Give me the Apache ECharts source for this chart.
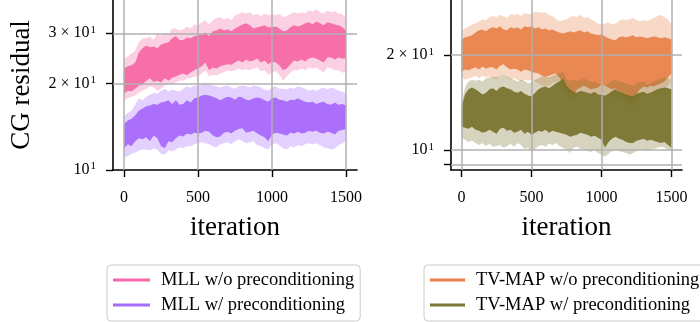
<!DOCTYPE html>
<html>
<head>
<meta charset="utf-8">
<script src="https://cdn.jsdelivr.net/npm/echarts@6/dist/echarts.min.js"></script>
<style>
  html, body { margin: 0; padding: 0; background: #fff; }
  #chart { width: 700px; height: 322px; }
</style>
</head>
<body>
<div id="chart"></div>
<script>
// iterations sampled along the x axis
const ITER = [0,25,50,75,100,125,150,175,200,225,250,275,300,325,350,375,400,425,450,475,
  500,525,550,575,600,625,650,675,700,725,750,775,800,825,850,875,900,925,950,975,
  1000,1025,1050,1075,1100,1125,1150,1175,1200,1225,1250,1275,1300,1325,1350,1375,1400,1425,1450,1475,1500];

// MLL w/o preconditioning: outer (light) and inner (dark) envelopes
const mllNoLo = [17.5,17.8,18.0,18.2,18.6,18.9,19.2,19.6,19.4,18.9, 19.2,19.7,19.9,20.0,20.2,20.5,20.5,20.9,20.9,21.2,
  21.2,21.7,22.3,21.2,21.5,21.4,21.7,21.9,22.3,22.1, 22.3,22.6,22.3,22.5,22.3,22.6,22.8,22.1,22.3,21.5,
  21.9,22.1,21.5,20.5,21.2,21.9,22.3,22.3,22.6,22.3, 22.8,22.6,22.8,22.3,21.9,22.8,22.6,22.3,22.3,21.9,21.9];
const mllNoInLo = [18.5,18.9,18.8,19.2,19.7,19.9,20.5,20.9,20.3,20.5, 20.2,20.9,20.5,21.0,21.2,21.5,21.7,21.4,21.9,22.3,
  22.6,23.0,23.7,22.3,22.8,22.6,23.0,23.2,23.4,23.3, 23.7,24.1,23.7,24.3,23.9,24.1,24.5,23.7,24.1,23.4,
  23.9,23.7,23.2,22.3,22.6,23.4,24.1,23.9,24.3,23.9, 24.5,24.7,24.5,24.1,23.7,24.7,24.7,24.3,24.7,24.5,24.5];
const mllNoInHi = [22.6,23.0,23.2,23.7,25.7,26.6,27.2,26.8,27.0,26.6, 27.4,27.7,27.9,28.8,29.3,28.4,28.4,29.0,28.8,29.3,
  29.5,29.7,30.2,29.3,30.5,30.7,31.2,30.7,31.0,30.5, 31.2,31.7,32.2,32.5,32.0,31.2,31.5,31.7,32.0,31.5,
  31.5,31.7,31.2,30.5,30.7,31.5,32.0,31.7,32.0,32.5, 32.8,32.2,33.0,32.5,32.0,32.8,32.5,32.2,32.0,31.5,30.7];
const mllNoHi = [24.5,24.9,25.5,26.1,27.9,28.8,28.8,29.3,28.4,30.0, 29.5,30.2,29.7,31.2,31.2,30.7,31.0,31.7,31.2,32.2,
  32.0,32.8,33.3,32.2,33.3,33.9,34.1,33.6,33.9,33.3, 34.7,35.0,35.5,35.2,35.5,34.7,35.0,34.4,35.2,34.7,
  35.0,34.7,35.0,34.1,34.4,35.0,35.5,35.2,35.5,35.2, 36.1,35.8,36.4,35.5,35.2,36.1,35.5,35.8,35.2,35.0,33.9];

// MLL w/ preconditioning
const mllPcLo = [11.0,11.2,11.4,11.5,11.7,11.8,11.8,11.7,11.9,11.8, 11.4,11.3,11.7,11.6,11.8,12.0,11.9,12.1,12.1,12.3,
  12.4,12.5,12.4,12.3,12.1,12.0,12.3,12.4,12.5,12.3, 12.6,12.8,12.6,12.4,12.5,12.6,12.2,12.1,11.9,11.8,
  12.3,12.4,12.2,11.9,11.8,12.1,12.0,12.2,12.1,12.3, 12.4,12.3,12.4,12.2,12.0,11.9,11.8,11.9,12.2,12.4,12.6];
const mllPcInLo = [11.9,12.3,12.1,12.6,12.9,12.8,13.0,12.6,13.2,12.9, 12.1,11.9,12.6,12.5,12.9,13.2,13.1,13.4,13.3,13.5,
  13.4,13.5,13.7,13.6,13.2,13.0,13.1,13.5,13.6,13.4, 13.7,13.9,14.0,13.5,13.6,13.7,13.4,13.2,13.0,12.6,
  13.3,13.5,13.4,13.3,13.2,13.5,13.4,13.6,13.4,13.5, 13.7,13.6,13.7,13.5,13.4,13.6,13.5,13.3,13.7,13.8,13.9];
const mllPcInHi = [14.5,14.9,15.1,15.5,16.1,16.4,16.7,16.8,17.0,16.9, 17.2,17.3,17.5,17.0,17.5,16.9,17.0,17.5,17.2,17.8,
  17.9,18.2,18.3,18.2,18.0,17.8,17.5,17.8,18.0,17.9, 17.6,18.0,17.9,17.6,17.5,17.8,17.9,17.8,17.5,17.3,
  17.8,17.9,17.6,17.5,17.3,17.6,17.5,17.8,17.5,17.3, 17.2,17.3,17.0,17.2,17.3,17.0,16.9,17.2,16.9,17.0,16.8];
const mllPcHi = [15.4,15.8,16.1,16.9,17.8,17.5,18.0,18.3,18.6,18.5, 18.9,19.2,18.8,19.1,18.9,18.8,19.2,19.6,19.4,19.7,
  19.6,20.0,20.2,19.9,19.7,19.6,19.4,19.6,19.7,19.4, 19.2,19.6,19.7,19.6,19.4,19.7,19.6,19.4,19.1,18.9,
  19.4,19.6,19.2,19.2,19.1,19.4,19.2,19.6,19.4,19.2, 18.9,19.1,18.9,19.2,19.4,19.1,19.4,19.2,18.9,18.8,18.5];

// TV-MAP w/o preconditioning
const tvNoLo = [17.0,16.7,16.9,17.0,17.2,16.9,17.2,17.0,17.1,17.0, 16.7,17.2,17.4,17.0,16.7,16.9,16.7,16.5,16.7,16.6,
  16.7,16.5,16.3,16.0,15.9,16.0,16.3,16.5,16.0,15.3, 14.8,14.5,14.2,14.8,15.0,15.1,15.0,14.8,14.9,15.0,
  15.2,15.0,14.9,14.7,14.7,14.5,14.2,14.0,13.9,13.8, 14.2,14.7,15.0,14.9,15.1,15.0,15.2,15.3,15.6,16.0,16.7];
const tvNoInLo = [17.7,18.0,17.9,18.1,18.3,18.0,18.4,18.1,18.3,18.3, 18.0,18.5,18.7,18.3,18.0,18.1,18.0,17.7,18.0,17.9,
  17.7,17.6,17.5,17.2,17.1,17.2,17.4,17.5,17.0,16.3, 15.6,15.2,15.0,15.6,15.8,16.0,15.8,15.6,15.7,15.8,
  16.1,16.0,15.8,15.6,15.7,15.3,15.0,14.7,14.5,14.5, 15.1,15.6,15.9,15.8,16.0,15.9,16.1,16.3,16.5,17.0,17.5];
const tvNoInHi = [22.4,22.8,22.9,23.1,23.6,24.0,24.1,23.8,24.3,24.5, 24.3,24.7,24.1,24.0,24.5,24.3,24.5,24.1,24.7,24.5,
  24.7,24.3,24.5,24.1,24.3,24.0,24.1,23.8,23.6,23.4, 23.6,23.8,23.6,23.8,24.0,23.6,23.8,23.4,23.3,23.1,
  23.3,22.9,22.6,22.4,22.3,22.8,22.9,22.8,22.9,23.1, 22.8,22.9,22.8,22.6,22.8,22.9,22.8,22.6,22.8,22.6,22.4];
const tvNoHi = [23.8,24.3,24.7,25.0,25.2,25.6,26.0,25.8,26.4,26.6, 26.4,26.8,26.6,26.2,27.0,26.8,27.0,26.6,27.2,27.0,
  27.0,27.4,27.4,27.2,27.4,26.8,26.6,26.0,25.6,25.8, 26.0,26.4,26.6,26.4,26.8,26.2,26.4,26.0,25.6,25.2,
  25.0,25.2,25.4,25.0,25.2,25.6,26.0,25.8,26.0,26.2, 25.8,25.6,25.8,25.6,26.0,26.2,26.6,26.8,26.4,26.0,25.0];

// TV-MAP w/ preconditioning
const tvPcLo = [10.94,10.78,10.62,10.70,10.54,10.39,10.54,10.31,10.47,10.24, 10.31,10.39,10.17,10.31,10.47,10.24,10.54,10.39,10.09,10.17,
  9.87,10.09,10.31,10.39,10.24,10.47,10.39,10.54,10.31,10.17, 10.02,9.80,10.17,10.24,10.09,10.02,9.94,9.87,10.02,9.80,
  9.66,9.52,9.73,9.94,10.02,9.94,9.87,9.80,9.66,9.80, 9.94,10.02,10.09,9.94,10.02,10.09,10.17,10.24,10.17,10.02,9.94];
const tvPcInLo = [11.86,11.77,11.68,11.86,11.60,11.51,11.35,11.43,11.60,11.43, 11.26,11.68,11.77,11.51,11.60,11.35,11.43,11.60,11.26,11.43,
  11.18,11.35,11.51,11.43,11.60,11.35,11.51,11.43,11.35,11.26, 11.18,11.02,11.10,11.18,11.35,11.26,11.18,11.02,11.10,10.94,
  10.78,10.17,10.62,10.86,11.02,10.86,10.78,10.62,10.54,10.54, 10.70,10.78,10.86,10.70,10.78,10.70,10.62,10.54,10.62,10.39,10.17];
const tvPcInHi = [13.7,15.0,15.6,15.8,15.6,15.3,15.0,15.2,15.6,15.7, 15.4,15.8,15.9,15.7,15.6,15.3,15.2,15.4,15.1,14.9,
  14.8,15.2,15.6,15.8,15.9,15.7,16.0,16.3,16.5,16.9, 16.0,15.6,15.3,15.2,15.4,15.3,15.2,15.1,15.3,15.0,
  15.0,14.9,15.1,15.4,15.6,15.3,15.2,15.0,14.9,14.8, 15.1,15.2,15.3,15.1,15.2,15.4,15.6,15.7,15.8,15.7,15.6];
const tvPcHi = [14.1,15.8,16.5,16.7,16.6,16.7,16.5,16.9,17.0,17.1, 17.0,17.2,17.4,17.1,16.9,16.7,16.5,16.7,16.6,16.3,
  16.4,16.7,16.9,17.1,17.2,17.0,17.2,17.4,17.5,17.7, 16.7,16.6,16.7,16.6,16.7,16.9,16.6,16.4,16.5,16.3,
  16.1,16.0,16.3,16.6,16.7,16.5,16.4,16.3,16.1,16.0, 16.3,16.4,16.5,16.1,16.3,16.5,16.7,16.9,17.0,16.9,16.7];

// axes
const X_TICKS = [0, 500, 1000, 1500];
const LEFT_Y_TICKS = [10, 20, 30];
const LEFT_Y_LABELS = [['', '10', '1'], ['2', '10', '1'], ['3', '10', '1']];
const LEFT_Y_GRID = [20, 30];
const RIGHT_Y_TICKS = [9, 10, 20];
const RIGHT_Y_LABELS = [null, ['', '10', '1'], ['2', '10', '1']];
const RIGHT_Y_GRID = [9, 10, 20];

const LEGEND_LEFT = ['MLL w/o preconditioning', 'MLL w/ preconditioning'];
const LEGEND_RIGHT = ['TV-MAP w/o preconditioning', 'TV-MAP w/ preconditioning'];

const FONT = 'Liberation Serif';
const GRID_COLOR = '#b0b0b0';

const chart = echarts.init(document.getElementById('chart'), null, { renderer: 'canvas' });

// light outer envelope, dark inner envelope drawn on top
function band(axis, lo, inLo, inHi, hi, name, color, rgb, z) {
  return {
    type: 'custom', name: name, xAxisIndex: axis, yAxisIndex: axis, z: z,
    silent: true, animation: false, clip: true,
    itemStyle: { color: color },
    data: [[ITER[0], lo[0]]],
    renderItem: (params, api) => {
      const poly = (a, b) => ITER.map((x, i) => api.coord([x, a[i]]))
        .concat(ITER.map((x, i) => api.coord([x, b[i]])).reverse());
      return {
        type: 'group',
        children: [
          { type: 'polygon', shape: { points: poly(lo, hi) }, style: { fill: 'rgba(' + rgb + ',0.3)' } },
          { type: 'polygon', shape: { points: poly(inLo, inHi) }, style: { fill: 'rgba(' + rgb + ',0.9)' } }
        ]
      };
    }
  };
}

function gridLines(axis, yVals) {
  return {
    type: 'line', xAxisIndex: axis, yAxisIndex: axis, data: [], silent: true, z: 4,
    markLine: {
      symbol: 'none', silent: true, animation: false,
      label: { show: false },
      lineStyle: { color: GRID_COLOR, width: 1.5, type: 'solid' },
      data: X_TICKS.map(v => ({ xAxis: v })).concat(yVals.map(v => ({ yAxis: v })))
    }
  };
}

function xAxis(grid) {
  return {
    gridIndex: grid, type: 'value', min: -75, max: 1575,
    name: 'iteration', nameLocation: 'middle', nameGap: 44,
    nameTextStyle: { fontFamily: FONT, fontSize: 27, color: '#000' },
    axisLine: { show: true, onZero: false, lineStyle: { color: '#000', width: 1.6 } },
    axisTick: { show: true, length: 7, customValues: X_TICKS, lineStyle: { color: '#000', width: 1.4 } },
    axisLabel: { customValues: X_TICKS, margin: 20, fontFamily: FONT, fontSize: 16, color: '#000', formatter: v => String(v) },
    splitLine: { show: false }
  };
}

function yAxis(grid, min, max, ticks, labels, withName) {
  return {
    gridIndex: grid, type: 'log', logBase: 10, min: min, max: max,
    name: withName ? 'CG residual' : '', nameLocation: 'middle', nameGap: 78,
    nameTextStyle: { fontFamily: FONT, fontSize: 27, color: '#000' },
    axisLine: { show: true, onZero: false, lineStyle: { color: '#000', width: 1.6 } },
    axisTick: { show: true, length: 7, customValues: ticks, lineStyle: { color: '#000', width: 1.4 } },
    axisLabel: {
      customValues: ticks.filter((t, i) => labels[i]),
      margin: 17, fontFamily: FONT, fontSize: 16, color: '#000',
      formatter: v => {
        const i = ticks.findIndex(t => Math.abs(t - v) < 1e-6);
        if (i < 0 || !labels[i]) return '';
        const [m, b, e] = labels[i];
        return (m ? '{t|' + m + ' × }' : '') + '{t|' + b + '}{s|' + e + '}';
      },
      rich: {
        t: { fontFamily: FONT, fontSize: 16, color: '#000', lineHeight: 18 },
        s: { fontFamily: FONT, fontSize: 11, color: '#000', lineHeight: 18, verticalAlign: 'top', padding: [0, 0, 6, 1] }
      }
    },
    splitLine: { show: false }
  };
}

function legend(left, names, colors, width) {
  return {
    left: left, top: 265, orient: 'vertical',
    padding: [4, 6, 5, 6], itemGap: 3, itemWidth: width, itemHeight: 3, icon: 'rect',
    borderColor: '#cccccc', borderWidth: 1, borderRadius: 4, backgroundColor: '#ffffff',
    selectedMode: false,
    textStyle: { fontFamily: FONT, fontSize: 18.5, color: '#000', lineHeight: 22, padding: [0, 0, 0, 6] },
    data: names.map((n, i) => ({ name: n, itemStyle: { color: colors[i] } }))
  };
}

const C = {
  pink: '#f768a8', pinkRgb: '245,100,162',
  purple: '#a86cfc', purpleRgb: '164,100,251',
  orange: '#e8804a', orangeRgb: '232,128,70',
  olive: '#7c7635', oliveRgb: '118,112,40'
};

chart.setOption({
  animation: false,
  grid: [
    { left: 113, top: 0, width: 244, height: 170 },
    { left: 451, top: 0, width: 231, height: 170 }
  ],
  xAxis: [xAxis(0), xAxis(1)],
  yAxis: [
    yAxis(0, 10, 39.2, LEFT_Y_TICKS, LEFT_Y_LABELS, true),
    yAxis(1, 8.65, 29.9, RIGHT_Y_TICKS, RIGHT_Y_LABELS, false)
  ],
  legend: [
    legend(107, LEGEND_LEFT, [C.pink, C.purple], 37),
    legend(424, LEGEND_RIGHT, [C.orange, C.olive], 35)
  ],
  series: [
    band(0, mllNoLo, mllNoInLo, mllNoInHi, mllNoHi, LEGEND_LEFT[0], C.pink, C.pinkRgb, 2),
    band(0, mllPcLo, mllPcInLo, mllPcInHi, mllPcHi, LEGEND_LEFT[1], C.purple, C.purpleRgb, 2),
    band(1, tvNoLo, tvNoInLo, tvNoInHi, tvNoHi, LEGEND_RIGHT[0], C.orange, C.orangeRgb, 2),
    band(1, tvPcLo, tvPcInLo, tvPcInHi, tvPcHi, LEGEND_RIGHT[1], C.olive, C.oliveRgb, 3),
    gridLines(0, LEFT_Y_GRID),
    gridLines(1, RIGHT_Y_GRID)
  ]
});
</script>
</body>
</html>
